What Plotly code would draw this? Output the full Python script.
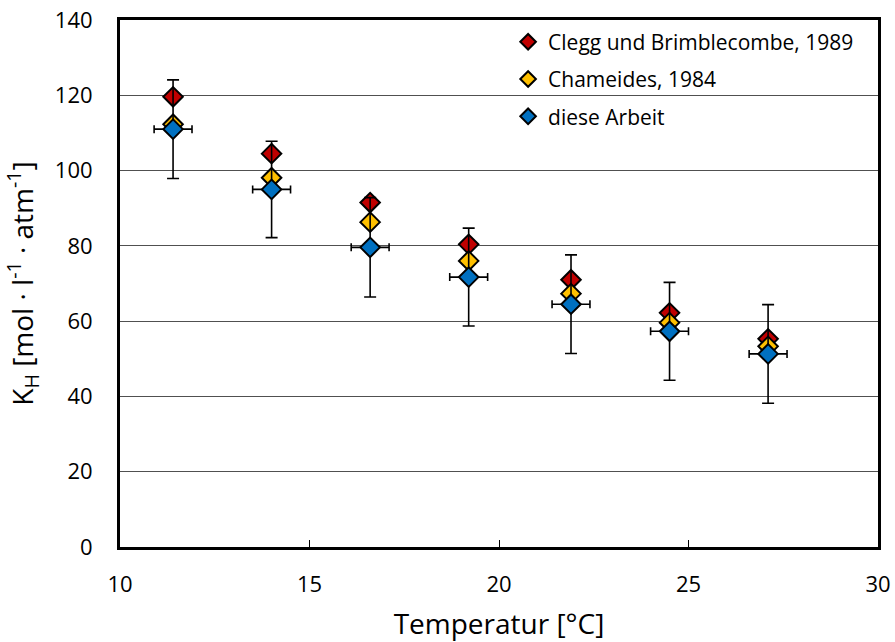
import plotly.graph_objects as go

temperature = [11.4, 14.0, 16.6, 19.2, 21.9, 24.5, 27.1]
kh_clegg = [119.6, 104.5, 91.5, 80.4, 71.0, 62.2, 55.3]
kh_chameides = [112.3, 98.1, 86.3, 76.0, 67.3, 59.6, 53.3]
kh_arbeit = [111.0, 95.0, 79.6, 71.7, 64.5, 57.3, 51.3]
err_y_arbeit = [13.1, 12.8, 13.2, 13.0, 13.1, 13.0, 13.1]
err_x_arbeit = [0.5, 0.5, 0.5, 0.5, 0.5, 0.5, 0.5]
y_ticks = [0, 20, 40, 60, 80, 100, 120, 140]
x_ticks = [10, 15, 20, 25, 30]

names = ["Clegg und Brimblecombe, 1989", "Chameides, 1984", "diese Arbeit"]
colors = ["#C00000", "#FFC000", "#0070C0"]

font_family = "Open Sans, Noto Sans, sans-serif"

fig = go.Figure()
for i, (name, vals, col) in enumerate(zip(names[:2], [kh_clegg, kh_chameides], colors[:2])):
    fig.add_trace(go.Scatter(
        x=temperature, y=vals, mode="markers", name=name, legendgroup=f"g{i}",
        marker=dict(symbol="diamond", size=15, color=col,
                    line=dict(color="black", width=2)),
    ))

fig.add_trace(go.Scatter(
    x=temperature, y=kh_arbeit, mode="markers", name=names[2], legendgroup="g2",
    marker=dict(symbol="diamond", size=15, color=colors[2],
                line=dict(color="black", width=2)),
    error_y=dict(type="data", array=err_y_arbeit, visible=True,
                 color="black", thickness=1.6, width=6),
    error_x=dict(type="data", array=err_x_arbeit, visible=True,
                 color="black", thickness=1.6, width=4),
))

fig.update_layout(
    width=895, height=642,
    margin=dict(l=120, r=17, t=20, b=95),
    plot_bgcolor="white", paper_bgcolor="white",
    font=dict(family=font_family, size=20, color="#000000"),
    showlegend=True,
    legend=dict(x=0.512, y=0.997, xanchor="left", yanchor="top",
                bgcolor="rgba(0,0,0,0)", font=dict(size=21),
                itemsizing="constant", tracegroupgap=7, traceorder="grouped"),
    xaxis=dict(
        range=[10, 30], tickvals=x_ticks, ticktext=[str(v) for v in x_ticks],
        showline=True, linewidth=3, linecolor="black", mirror=True,
        showgrid=False, zeroline=False,
        ticks="inside", ticklen=7, tickcolor="black", tickwidth=1,
        tickfont=dict(size=22), ticklabelstandoff=16,
        automargin=False,
        title=dict(text="Temperatur [°C]", font=dict(size=28), standoff=18),
    ),
    yaxis=dict(
        range=[0, 140], tickvals=y_ticks, ticktext=[str(v) for v in y_ticks],
        showline=True, linewidth=3, linecolor="black", mirror=True,
        showgrid=True, gridcolor="#505050", gridwidth=1, zeroline=False,
        ticks="", tickfont=dict(size=22), ticklabelstandoff=20,
        automargin=False,
        title=dict(text="K<sub>H</sub> [mol · l<sup>-1</sup> · atm<sup>-1</sup>]",
                   font=dict(size=28), standoff=14),
    ),
)

fig.write_html("out.html", config={"displayModeBar": False},
               post_script="document.body.style.margin='0px';")
